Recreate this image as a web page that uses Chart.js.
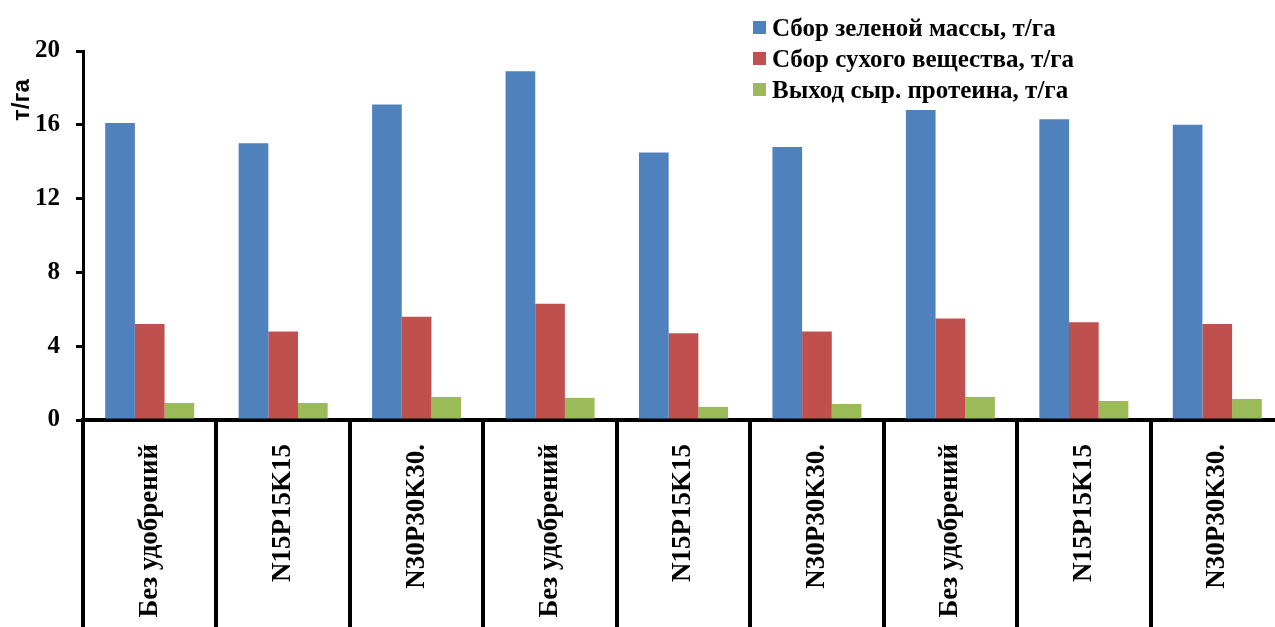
<!DOCTYPE html>
<html>
<head>
<meta charset="utf-8">
<script src="https://cdn.jsdelivr.net/npm/chart.js@4.4.1/dist/chart.umd.min.js"></script>
<style>
  html, body { margin: 0; padding: 0; background: #fff; overflow: hidden; }
  #wrap { position: relative; width: 1275px; height: 627px; overflow: hidden; }
  #yieldChart { position: absolute; left: 0; top: 0; }
  #legend { position: absolute; left: 753px; top: 12px; font: bold 25px "Liberation Serif", serif; color: #000; }
  .legend-item { display: flex; align-items: center; height: 31px; white-space: nowrap; }
  .legend-box { width: 13px; height: 13px; margin-right: 6px; flex: none; }
</style>
</head>
<body>
<div id="wrap">
  <canvas id="yieldChart" width="1290" height="627"></canvas>
  <div id="legend"></div>
</div>
<script>
// Treatments (three repeated blocks)
const categories = ['Без удобрений', 'N15P15K15', 'N30P30K30.', 'Без удобрений', 'N15P15K15', 'N30P30K30.', 'Без удобрений', 'N15P15K15', 'N30P30K30.'];

const seriesNames = ['Сбор зеленой массы, т/га', 'Сбор сухого вещества, т/га', 'Выход сыр. протеина, т/га'];
const seriesColors = ['#4F81BD', '#C0504D', '#9BBB59'];

// values, t/ha
const greenMass = [16.1, 15.0, 17.1, 18.9, 14.5, 14.8, 16.8, 16.3, 16.0];
const dryMatter = [5.2, 4.8, 5.6, 6.3, 4.7, 4.8, 5.5, 5.3, 5.2];
const crudeProtein = [0.92, 0.92, 1.25, 1.2, 0.71, 0.87, 1.25, 1.03, 1.14];

const yMin = 0;
const yMax = 20;
const yStep = 4;
const yTitle = 'т/га';

const serif = '"Liberation Serif", "Times New Roman", serif';

// draws the rotated unit label near the top of the y axis
const yTitlePlugin = {
  id: 'yTitle',
  afterDraw (chart) {
    const ctx = chart.ctx;
    ctx.save();
    ctx.translate(22, 100);
    ctx.rotate(-Math.PI / 2);
    ctx.font = 'bold 24px "Liberation Sans", Arial, sans-serif';
    ctx.fillStyle = '#000';
    ctx.textAlign = 'center';
    ctx.textBaseline = 'middle';
    ctx.fillText(yTitle, 0, 0);
    ctx.restore();
  }
};

const ctx = document.getElementById('yieldChart').getContext('2d');
const yieldChart = new Chart(ctx, {
  type: 'bar',
  data: {
    labels: categories,
    datasets: [greenMass, dryMatter, crudeProtein].map((values, i) => ({
      label: seriesNames[i],
      data: values,
      backgroundColor: seriesColors[i],
      borderWidth: 0,
      barPercentage: 1,
      categoryPercentage: 0.667
    }))
  },
  options: {
    responsive: false,
    animation: false,
    devicePixelRatio: 1,
    layout: { padding: { top: 51, right: 6, left: 0, bottom: 0 } },
    plugins: {
      legend: { display: false },
      tooltip: { enabled: false }
    },
    scales: {
      x: {
        grid: {
          offset: true,
          drawOnChartArea: false,
          drawTicks: true,
          tickLength: 207,
          lineWidth: 4,
          color: '#000'
        },
        border: { display: true, color: '#000', width: 4 },
        ticks: {
          autoSkip: false,
          minRotation: 90,
          maxRotation: 90,
          padding: -183,
          color: '#000',
          font: { family: serif, size: 27, weight: 'bold' }
        },
        afterFit (scale) { scale.height = 207; }
      },
      y: {
        min: yMin,
        max: yMax,
        ticks: {
          stepSize: yStep,
          padding: 16,
          color: '#000',
          font: { family: serif, size: 25, weight: 'bold' }
        },
        grid: {
          drawOnChartArea: false,
          drawTicks: true,
          tickLength: 7,
          lineWidth: 3,
          color: '#000'
        },
        border: { display: true, color: '#000', width: 3 },
        afterFit (scale) { scale.width = 83; }
      }
    }
  },
  plugins: [yTitlePlugin]
});

// html legend built from the chart datasets
const legendEl = document.getElementById('legend');
yieldChart.data.datasets.forEach(ds => {
  const item = document.createElement('div');
  item.className = 'legend-item';
  const box = document.createElement('span');
  box.className = 'legend-box';
  box.style.background = ds.backgroundColor;
  const text = document.createElement('span');
  text.textContent = ds.label;
  item.appendChild(box);
  item.appendChild(text);
  legendEl.appendChild(item);
});
</script>
</body>
</html>
